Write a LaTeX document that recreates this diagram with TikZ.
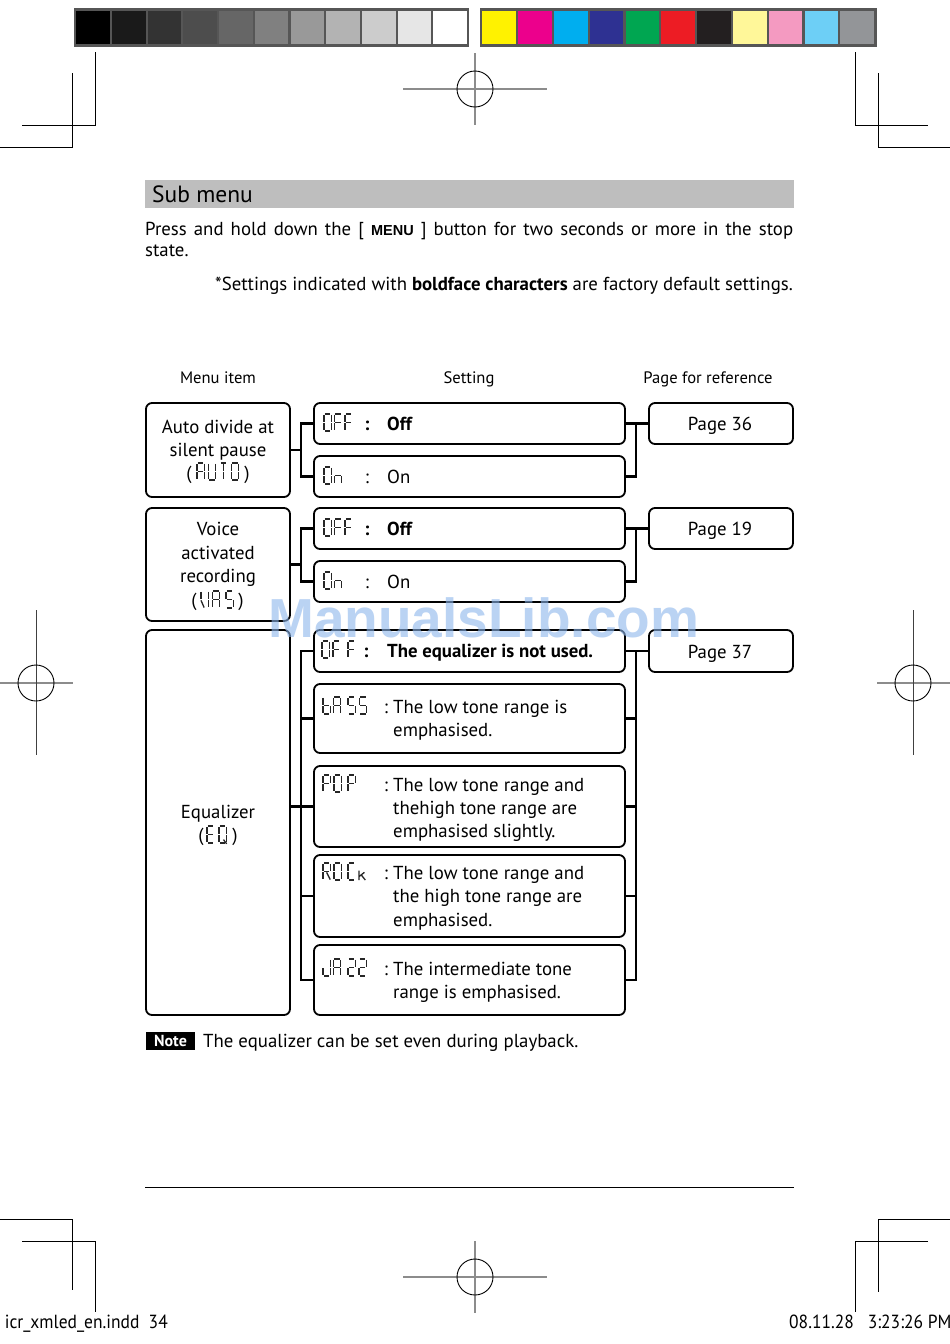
\documentclass[tikz,border=0pt]{standalone}
\usepackage{fontspec}
\usepackage{graphicx}
\setmainfont{PT Sans}
\newfontfamily\wmfont{Liberation Sans}
\newfontfamily\menufont{Liberation Sans}
\definecolor{frameg}{HTML}{565656}
\definecolor{hdrg}{HTML}{BEBEBE}
\definecolor{regg}{HTML}{8C8C8C}
\definecolor{wmblue}{HTML}{8DB6EC}
\definecolor{g0}{HTML}{000000}\definecolor{g1}{HTML}{1A1A1A}\definecolor{g2}{HTML}{333333}
\definecolor{g3}{HTML}{4D4D4D}\definecolor{g4}{HTML}{666666}\definecolor{g5}{HTML}{808080}
\definecolor{g6}{HTML}{999999}\definecolor{g7}{HTML}{B3B3B3}\definecolor{g8}{HTML}{CCCCCC}
\definecolor{g9}{HTML}{E6E6E6}\definecolor{g10}{HTML}{FFFFFF}
\definecolor{c0}{HTML}{FFF200}\definecolor{c1}{HTML}{EC008C}\definecolor{c2}{HTML}{00AEEF}
\definecolor{c3}{HTML}{2E3192}\definecolor{c4}{HTML}{00A651}\definecolor{c5}{HTML}{ED1C24}
\definecolor{c6}{HTML}{231F20}\definecolor{c7}{HTML}{FFF799}\definecolor{c8}{HTML}{F49AC1}
\definecolor{c9}{HTML}{6DCFF6}\definecolor{c10}{HTML}{939598}
\newcommand\fs{\fontsize{18.8}{22}\selectfont}
\newcommand\lcdseg[1]{%
 \if a#1\draw[lcdl] (1,0)--(7,0);\fi
 \if b#1\draw[lcdl] (8,1)--(8,9);\fi
 \if c#1\draw[lcdl] (8,11)--(8,19);\fi
 \if d#1\draw[lcdl] (1,20)--(7,20);\fi
 \if e#1\draw[lcdl] (0,11)--(0,19);\fi
 \if f#1\draw[lcdl] (0,1)--(0,9);\fi
 \if g#1\draw[lcdl] (1,10)--(7,10);\fi
 \if t#1\draw[lcdl] (4,1)--(4,9) (4,11)--(4,19);\fi
 \if v#1\draw[lcdl] (0,11)--(3.5,19.5);\fi
 \if r#1\draw[lcdl] (4,11)--(8,19.5);\fi
 \if k#1\draw[lcdl] (0,9)--(0,20) (0,16)--(6,11) (2.5,14)--(7,20);\fi
 \if q#1\draw[lcdl] (5,16)--(8.5,21);\fi
}
\newcommand\lcd[3]{\begin{scope}[shift={(#1,#2)},xscale=0.9,yscale=0.85]\foreach \s in #3 {\lcdseg{\s}}\end{scope}}
\def\gO{a,b,c,d,e,f}
\def\gF{a,f,e,g}
\def\gn{g,e,c}
\def\gb{f,e,g,c,d}
\def\gA{a,b,c,e,f,g}
\def\gS{a,f,g,c,d}
\def\gP{a,b,f,g,e}
\def\gR{a,b,f,g,e,r}
\def\gC{a,f,e,d}
\def\gk{k}
\def\gJ{b,c,d,e}
\def\gtwo{a,b,g,e,d}
\def\gU{b,c,d,e,f}
\def\gT{a,t}
\def\gV{f,v,b,c}
\def\gE{a,f,g,e,d}
\def\gQ{a,b,c,d,e,f,q}
\tikzset{
 lcdl/.style={line width=1.3pt, draw=black!85, line cap=butt},
 boxst/.style={draw=black, line width=1.8pt, rounded corners=6pt, inner sep=0pt, outer sep=0pt},
 conn/.style={line width=2.8pt, draw=black},
 txt/.style={inner sep=0pt, anchor=base, font=\fs},
 txtl/.style={inner sep=0pt, anchor=base west, font=\fs},
 hd/.style={inner sep=0pt, anchor=base, font=\fontsize{16.6}{16.6}\selectfont},
 crop/.style={line width=1pt, draw=black},
 regl/.style={line width=1.4pt, draw=regg},
 regc/.style={line width=0.9pt, draw=black},
}
\begin{document}
\begin{tikzpicture}[x=1pt,y=-1pt]
\useasboundingbox (0,0) rectangle (950,1344);
\fill[white] (0,0) rectangle (950,1344);
% colour bars
\fill[frameg] (74,8) rectangle (469,47);
\foreach \c [count=\i from 0] in {g0,g1,g2,g3,g4,g5,g6,g7,g8,g9,g10}{\fill[\c] ({76.3+\i*35.7},11) rectangle ++(33.6,33);}
\fill[frameg] (480,8) rectangle (877,47);
\foreach \c [count=\i from 0] in {c0,c1,c2,c3,c4,c5,c6,c7,c8,c9,c10}{\fill[\c] ({482.3+\i*35.8},11) rectangle ++(33.6,33);}
% crop marks
\draw[crop] (95,52)--(95,125)--(22,125);
\draw[crop] (72,73)--(72,147)--(0,147);
\draw[crop] (855,52)--(855,125)--(928,125);
\draw[crop] (878,73)--(878,147)--(950,147);
\draw[crop] (0,1219)--(72,1219)--(72,1290);
\draw[crop] (22,1241)--(95,1241)--(95,1312);
\draw[crop] (950,1219)--(878,1219)--(878,1292);
\draw[crop] (928,1241)--(855,1241)--(855,1312);
% registration marks
\draw[regl] (403,89)--(547,89) (475,53)--(475,125);
\draw[regc] (475,89) circle[radius=18];
\draw[regl] (403,1277)--(547,1277) (475,1241)--(475,1313);
\draw[regc] (475,1277) circle[radius=18];
\draw[regl] (0,683)--(73,683);
\draw[line width=1pt, draw=black!75] (36,610)--(36,755);
\draw[regc] (36,683) circle[radius=18];
\draw[regl] (877,683)--(950,683);
\draw[line width=1pt, draw=black!75] (913,610)--(913,755);
\draw[regc] (913,683) circle[radius=18];
% header
\fill[hdrg] (145,180) rectangle (794,208);
\node[inner sep=0pt, anchor=base west, font=\fontsize{23.5}{23.5}\selectfont] (title) at (152,202) {Sub menu};
\node[inner sep=0pt, anchor=base west, font=\fs] (para1) at (145,235) {\makebox[648pt][s]{Press and hold down the [ {\menufont\bfseries\fontsize{14.5}{14.5}\selectfont MENU} ] button for two seconds or more in the stop}};
\node[txtl] (para2) at (145,256) {state.};
\node[inner sep=0pt, anchor=base east, font=\fs] (note1) at (793,290) {*Settings indicated with \textbf{boldface characters} are factory default settings.};
% table headings
\node[hd] (h1) at (218,383) {Menu item};
\node[hd] (h2) at (469,383) {Setting};
\node[hd] (h3) at (708,383) {Page for reference};
% boxes
\node[boxst, minimum width=144pt, minimum height=94pt] (m1) at (218,450) {};
\node[boxst, minimum width=144pt, minimum height=113pt] (m2) at (218,564.5) {};
\node[boxst, minimum width=144pt, minimum height=385pt] (m3) at (218,822.5) {};
\node[boxst, minimum width=311pt, minimum height=41pt] (s1) at (469.5,423.5) {};
\node[boxst, minimum width=311pt, minimum height=41pt] (s2) at (469.5,476.5) {};
\node[boxst, minimum width=311pt, minimum height=41pt] (s3) at (469.5,528.5) {};
\node[boxst, minimum width=311pt, minimum height=41pt] (s4) at (469.5,581.5) {};
\node[boxst, minimum width=311pt, minimum height=42pt] (e0) at (469.5,651) {};
\node[boxst, minimum width=311pt, minimum height=69pt] (e1) at (469.5,718.5) {};
\node[boxst, minimum width=311pt, minimum height=81pt] (e2) at (469.5,806.5) {};
\node[boxst, minimum width=311pt, minimum height=82pt] (e3) at (469.5,896) {};
\node[boxst, minimum width=311pt, minimum height=70pt] (e4) at (469.5,980) {};
\node[boxst, minimum width=144pt, minimum height=41pt] (p1) at (721,423.5) {};
\node[boxst, minimum width=144pt, minimum height=41pt] (p2) at (721,528.5) {};
\node[boxst, minimum width=144pt, minimum height=42pt] (p3) at (721,651) {};
% connectors
\draw[conn] (m1.east) -- ++(11,0);
\draw[conn] (s1.west) -- ++(-13,0) |- (s2.west);
\draw[conn] (s1.east) -- ++(11,0) |- (s2.east);
\draw[conn] (s1.east) -- (p1.west);
\draw[conn] (m2.east) -- ++(11,0);
\draw[conn] (s3.west) -- ++(-13,0) |- (s4.west);
\draw[conn] (s3.east) -- ++(11,0) |- (s4.east);
\draw[conn] (s3.east) -- (p2.west);
\draw[conn] (m3.east |- e2.west) -- ++(11,0);
\draw[conn] (e0.west) -- ++(-13,0) |- (e4.west);
\draw[conn] (e1.west) -- ++(-13,0);
\draw[conn] (e2.west) -- ++(-13,0);
\draw[conn] (e3.west) -- ++(-13,0);
\draw[conn] (e0.east) -- ++(11,0) |- (e4.east);
\draw[conn] (e1.east) -- ++(11,0);
\draw[conn] (e2.east) -- ++(11,0);
\draw[conn] (e3.east) -- ++(11,0);
\draw[conn] (e0.east) -- (p3.west);
% menu item texts
\node[txt] (t11) at (218,433) {Auto divide at};
\node[txt] (t12) at (218,456) {silent pause};
\node[txt] (t13a) at (189,479) {(};
\node[txt] (t13b) at (247,479) {)};
\lcd{197}{463}{\gA}\lcd{208.5}{463}{\gU}\lcd{220}{463}{\gT}\lcd{231.5}{463}{\gO}
\node[txt] (t21) at (218,535) {Voice};
\node[txt] (t22) at (218,559) {activated};
\node[txt] (t23) at (218,582) {recording};
\node[txt] (t24a) at (194,606) {(};
\node[txt] (t24b) at (241,606) {)};
\lcd{201}{591}{\gV}\lcd{212.5}{591}{\gA}\lcd{226}{591}{\gS}
\node[txt] (t31) at (218,818) {Equalizer};
\node[txt] (t32a) at (201,841) {(};
\node[txt] (t32b) at (235,841) {)};
\lcd{207}{826}{\gE}\lcd{219}{826}{\gQ}
% settings
\lcd{324}{414}{\gO}\lcd{334.5}{414}{\gF}\lcd{345}{414}{\gF}
\node[txt, font=\fs\bfseries] (c1) at (367,430) {:};
\node[txtl, font=\fs\bfseries] (v1) at (387,430) {Off};
\lcd{324}{467}{\gO}\lcd{334.5}{467}{\gn}
\node[txt] (c2) at (367,483) {:};
\node[txtl] (v2) at (387,483) {On};
\lcd{324}{519}{\gO}\lcd{334.5}{519}{\gF}\lcd{345}{519}{\gF}
\node[txt, font=\fs\bfseries] (c3) at (367,535) {:};
\node[txtl, font=\fs\bfseries] (v3) at (387,535) {Off};
\lcd{324}{572}{\gO}\lcd{334.5}{572}{\gn}
\node[txt] (c4) at (367,588) {:};
\node[txtl] (v4) at (387,588) {On};
% equalizer settings
\lcd{322}{641}{\gO}\lcd{333}{641}{\gF}\lcd{348}{641}{\gF}
\node[txt, font=\fs\bfseries] (ce0) at (366,657) {:};
\node[txtl, font=\fs\bfseries] (ve0) at (387,657) {The equalizer is not used.};
\lcd{323}{697}{\gb}\lcd{333.5}{697}{\gA}\lcd{348}{697}{\gS}\lcd{359.5}{697}{\gS}
\node[txt] (ce1) at (386,713) {:};
\node[txtl] (ve1a) at (393,713) {The low tone range is};
\node[txtl] (ve1b) at (393,736) {emphasised.};
\lcd{323}{775}{\gP}\lcd{334}{775}{\gO}\lcd{348}{775}{\gP}
\node[txt] (ce2) at (386,791) {:};
\node[txtl] (ve2a) at (393,791) {The low tone range and};
\node[txtl] (ve2b) at (393,814) {thehigh tone range are};
\node[txtl] (ve2c) at (393,837) {emphasised slightly.};
\lcd{323}{863}{\gR}\lcd{334}{863}{\gO}\lcd{348}{863}{\gC}\lcd{359}{863}{\gk}
\node[txt] (ce3) at (386,879) {:};
\node[txtl] (ve3a) at (393,879) {The low tone range and};
\node[txtl] (ve3b) at (393,902) {the high tone range are};
\node[txtl] (ve3c) at (393,926) {emphasised.};
\lcd{323}{959}{\gJ}\lcd{333.5}{959}{\gA}\lcd{348}{959}{\gtwo}\lcd{359}{959}{\gtwo}
\node[txt] (ce4) at (386,975) {:};
\node[txtl] (ve4a) at (393,975) {The intermediate tone};
\node[txtl] (ve4b) at (393,998) {range is emphasised.};
% pages
\node[txt] (pt1) at (720,430) {Page 36};
\node[txt] (pt2) at (720,535) {Page 19};
\node[txt] (pt3) at (720,658) {Page 37};
% note
\node[fill=black, text=white, inner sep=0pt, minimum width=49pt, minimum height=18pt, font=\fontsize{16}{16}\selectfont\bfseries] (note) at (170.5,1041) {Note};
\node[txtl] (notetxt) at (203,1047) {The equalizer can be set even during playback.};
% bottom rule
\draw[line width=1pt] (145,1187)--(794,1187);
% footer
\node[inner sep=0pt, anchor=base east, font=\fontsize{19}{19}\selectfont] (f1) at (168,1328) {\scalebox{0.92}[1]{icr\_xmled\_en.indd\ \ 34}};
\node[inner sep=0pt, anchor=base west, font=\fontsize{19}{19}\selectfont] (f2) at (789,1328) {\scalebox{0.92}[1]{08.11.28\ \ \ 3:23:26 PM}};
% watermark
\node[inner sep=0pt, anchor=base west, text=wmblue, text opacity=0.6, font=\wmfont\bfseries\fontsize{55}{55}\selectfont] (wm) at (268,637) {ManualsLib.com};
\end{tikzpicture}
\end{document}
